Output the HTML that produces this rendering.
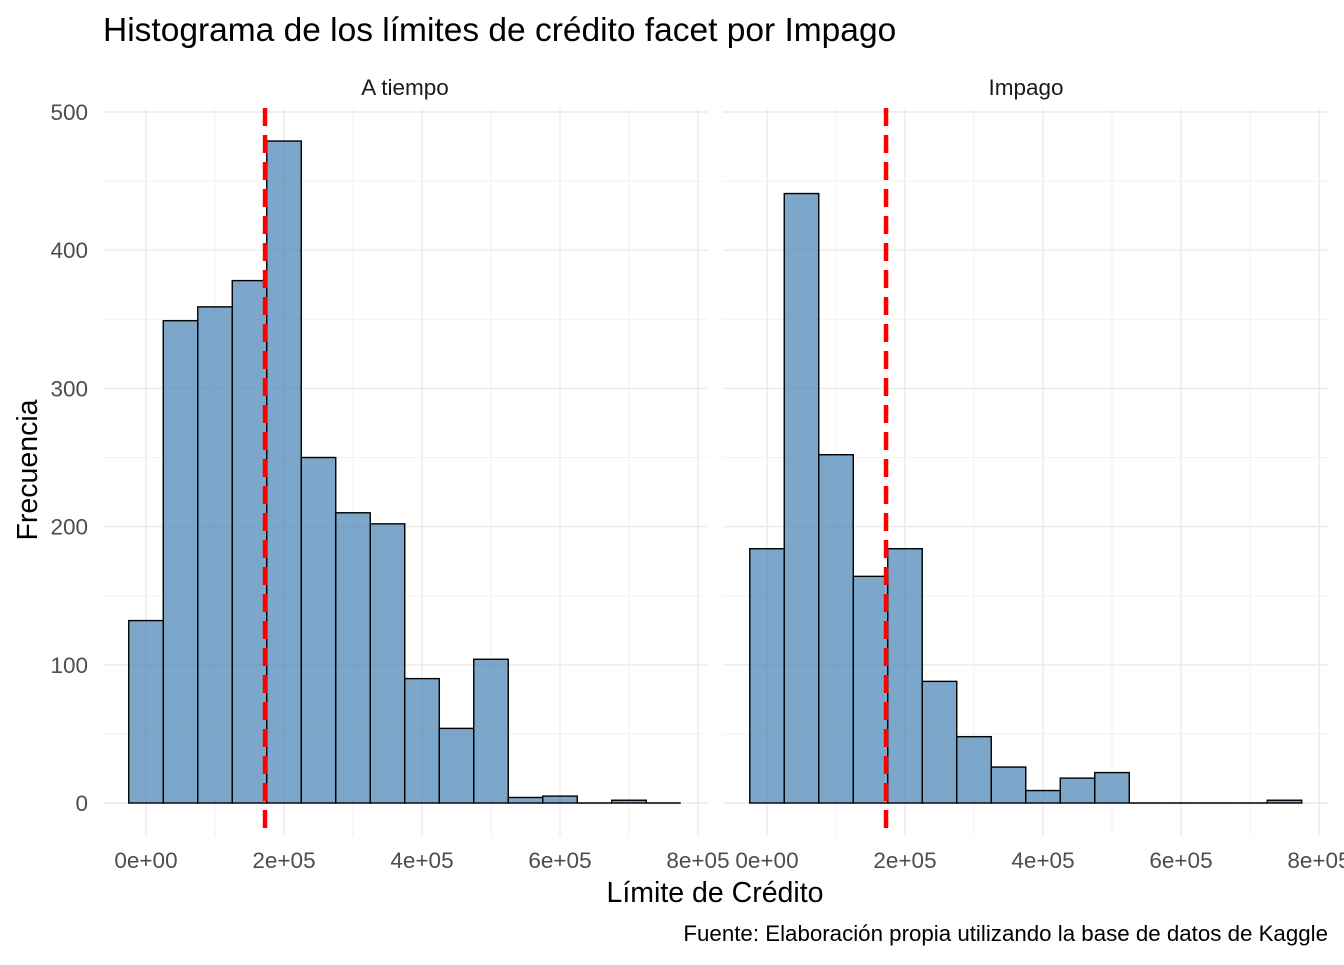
<!DOCTYPE html>
<html><head><meta charset="utf-8"><style>
body{margin:0;background:#fff;}
svg{font-family:"Liberation Sans",Arial,sans-serif;}
</style></head><body>
<svg id="chart" width="1344" height="960" viewBox="0 0 1344 960">
<text x="103" y="41" font-size="33.5" fill="#000">Histograma de los límites de crédito facet por Impago</text>
<text x="405" y="95" font-size="22.5" text-anchor="middle" fill="#1a1a1a">A tiempo</text>
<text x="1026" y="95" font-size="22.5" text-anchor="middle" fill="#1a1a1a">Impago</text>
<text transform="translate(37,470) rotate(-90)" font-size="28.5" text-anchor="middle" fill="#000">Frecuencia</text>
<text x="715" y="902" font-size="28.5" text-anchor="middle" fill="#000">Límite de Crédito</text>
<text x="1328" y="941" font-size="22.3" text-anchor="end" fill="#000">Fuente: Elaboración propia utilizando la base de datos de Kaggle</text>
<g id="plots"></g>
</svg>
<script>
const binStarts = [-25000,25000,75000,125000,175000,225000,275000,325000,375000,425000,475000,525000,575000,625000,675000,725000];
const binWidth = 50000;
const countsATiempo = [132,349,359,378,479,250,210,202,90,54,104,4,5,0,2,0];
const countsImpago = [184,441,252,164,184,88,48,26,9,18,22,0,0,0,0,2];
const meanLimit = 172500;
const xTicks = [0,200000,400000,600000,800000];
const xTickLabels = ["0e+00","2e+05","4e+05","6e+05","8e+05"];
const yTicks = [0,100,200,300,400,500];

const NS="http://www.w3.org/2000/svg";
const g=document.getElementById('plots');
function mk(t,a,p){const e=document.createElementNS(NS,t);for(const k in a)e.setAttribute(k,a[k]);(p||g).appendChild(e);return e;}
const yScale=v=>803-v*1.382;
const panels=[{x0:146,left:103,right:708,counts:countsATiempo,name:'a-tiempo'},{x0:767,left:723,right:1329,counts:countsImpago,name:'impago'}];
yTicks.forEach(v=>{
  const t=mk('text',{x:88,y:yScale(v)+8,'font-size':'22.5','text-anchor':'end',fill:'#4d4d4d'});
  
  
  t.textContent=v;
});
panels.forEach(p=>{
  const xs=v=>p.x0+v*0.00069;
  const pg=mk('g',{});
  
  
  for(let v=50;v<=450;v+=100){const l=mk('line',{x1:p.left,x2:p.right,y1:yScale(v),y2:yScale(v),stroke:'#f2f2f2','stroke-width':1},pg);}
  for(let v=-100000;v<=900000;v+=200000){const x=xs(v);if(x<p.left||x>p.right)continue;const l=mk('line',{x1:x,x2:x,y1:108,y2:836,stroke:'#f2f2f2','stroke-width':1},pg);}
  yTicks.forEach(v=>{const l=mk('line',{x1:p.left,x2:p.right,y1:yScale(v),y2:yScale(v),stroke:'#ebebeb','stroke-width':1.4},pg);});
  xTicks.forEach((v,i)=>{const x=xs(v);const l=mk('line',{x1:x,x2:x,y1:108,y2:836,stroke:'#ebebeb','stroke-width':1.4},pg);
    const t=mk('text',{x:x,y:868,'font-size':'22.5','text-anchor':'middle',fill:'#4d4d4d'},pg);t.textContent=xTickLabels[i];});
  p.counts.forEach((c,i)=>{
    const x1=xs(binStarts[i]),x2=xs(binStarts[i]+binWidth);
    if(c>0){
      const r=mk('rect',{x:x1,y:yScale(c),width:x2-x1,height:yScale(0)-yScale(c),fill:'rgba(70,130,180,0.7)',stroke:'#000','stroke-width':1.4},pg);
      
      
    } else {
      const r=mk('line',{x1:x1,x2:x2,y1:yScale(0),y2:yScale(0),stroke:'#000','stroke-width':1.4},pg);
      
      
    }
  });
  const ml=mk('line',{x1:xs(meanLimit),x2:xs(meanLimit),y1:108,y2:836,stroke:'#ff0000','stroke-width':4.5,'stroke-dasharray':'18,9'},pg);
  
  
});
</script>
</body></html>
